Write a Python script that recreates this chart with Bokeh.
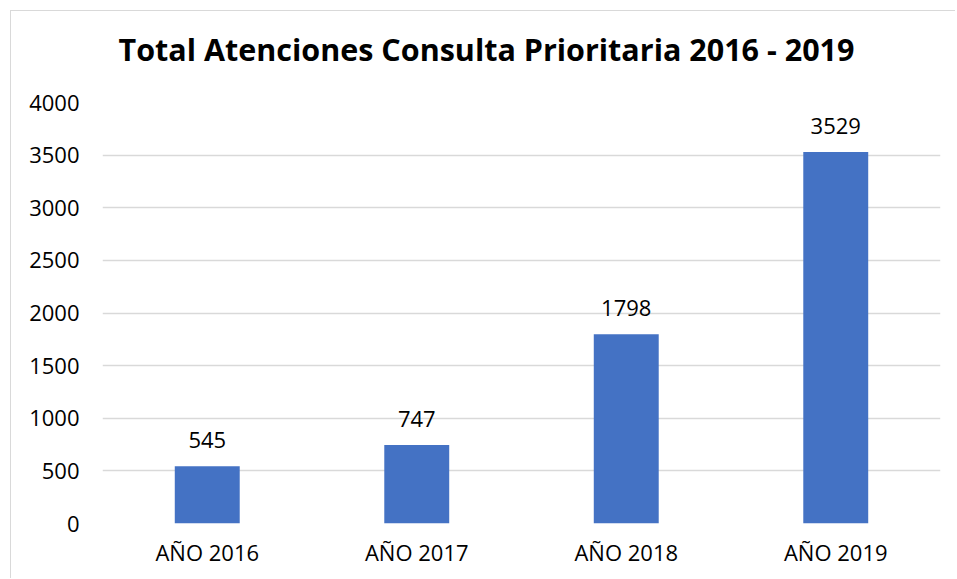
from bokeh.plotting import figure
from bokeh.models import ColumnDataSource, LabelSet, Title, FixedTicker
from bokeh.core.properties import value
from bokeh.embed import file_html
from bokeh.resources import INLINE

categories = ["AÑO 2016", "AÑO 2017", "AÑO 2018", "AÑO 2019"]
values = [545, 747, 1798, 3529]
y_ticks = [0, 500, 1000, 1500, 2000, 2500, 3000, 3500, 4000]
title_text = "Total Atenciones Consulta  Prioritaria 2016 - 2019"

FONT = "Open Sans"
source = ColumnDataSource(dict(cat=categories, val=values, lbl=[str(v) for v in values]))

p = figure(x_range=categories, y_range=(0, 4000), width=955, height=586,
           output_backend="svg", toolbar_location=None,
           min_border_left=102, min_border_right=15, min_border_top=110, min_border_bottom=55)
p.border_fill_color = None
p.styles = {"margin-top": "-8px",
            "box-shadow": "inset 10px 18px 0 0 #ffffff, inset 11px 19px 0 0 #d9d9d9"}
p.title = None
t = Title(text=title_text, align="left", text_font=FONT, text_font_size="30.5px",
          text_font_style="bold", text_color="#000000", offset=16, standoff=66)
p.add_layout(t, "above")

p.vbar(x="cat", top="val", width=0.31, source=source, color="#4472C4", line_color=None)

labels = LabelSet(x="cat", y="val", text="lbl", source=source, text_align="center",
                  text_baseline="bottom", y_offset=18, text_font_size="22px",
                  text_font=value(FONT), text_color="#000000")
p.add_layout(labels)

p.outline_line_color = None
p.xgrid.grid_line_color = None
p.ygrid.grid_line_color = "#d9d9d9"
p.ygrid.grid_line_width = 1.5
p.yaxis.ticker = FixedTicker(ticks=y_ticks)
for ax in (p.xaxis[0], p.yaxis[0]):
    ax.axis_line_color = None
    ax.major_tick_line_color = None
    ax.minor_tick_line_color = None
    ax.major_label_text_font = FONT
    ax.major_label_text_font_size = "22px"
    ax.major_label_text_color = "#000000"
p.yaxis.major_label_standoff = 17
p.xaxis.major_label_standoff = 7

open("out.html", "w").write(file_html(p, INLINE))
